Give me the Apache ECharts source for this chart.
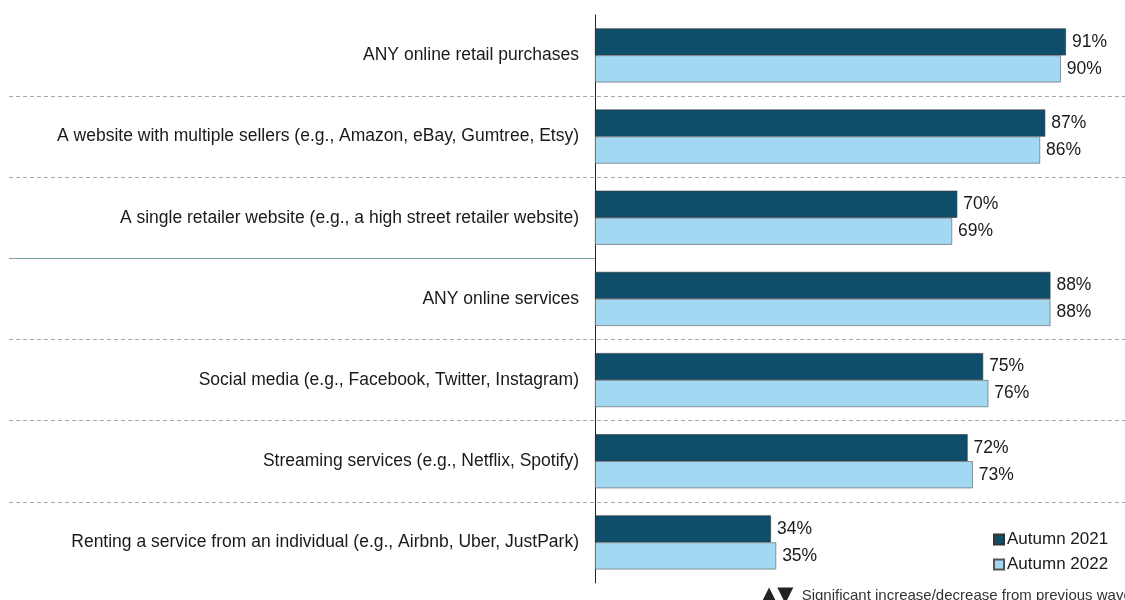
<!DOCTYPE html>
<html>
<head>
<meta charset="utf-8">
<script src="https://cdn.jsdelivr.net/npm/echarts@6/dist/echarts.min.js"></script>
<style>
  html, body { margin: 0; padding: 0; background: #fff; }
  #chart { width: 1125px; height: 600px; }
</style>
</head>
<body>
<div id="chart"></div>
<script>
const categories = [
  'ANY online retail purchases',
  'A website with multiple sellers (e.g., Amazon, eBay, Gumtree, Etsy)',
  'A single retailer website (e.g., a high street retailer website)',
  'ANY online services',
  'Social media (e.g., Facebook, Twitter, Instagram)',
  'Streaming services (e.g., Netflix, Spotify)',
  'Renting a service from an individual (e.g., Airbnb, Uber, JustPark)'
]
const autumn2021 = [91, 87, 70, 88, 75, 72, 34]
const autumn2022 = [90, 86, 69, 88, 76, 73, 35]
const seriesNames = ['Autumn 2021', 'Autumn 2022']
// group boundaries (in category units from the top)
const dashedBoundaries = [1, 2, 4, 5, 6]
const solidBoundaries = [3]
const footnoteMarks = '\u25B2\u25BC'
const footnote = 'Significant increase/decrease from previous wave'

const colors = ['#0f4e6b', '#a3d8f2']
const font = '"Liberation Sans", Arial, sans-serif'
const gridTop = 14.8, gridBottom = 17

const valueLabel = {
  show: true,
  position: 'right',
  distance: 6,
  formatter: '{c}%',
  color: '#1a1a1a',
  fontSize: 17.5,
  fontFamily: font
}

const option = {
  animation: false,
  textStyle: { fontFamily: font },
  color: colors,
  grid: [
    { left: 595, right: 12.5, top: gridTop, bottom: gridBottom },
    { left: 9, right: 0, top: gridTop, bottom: gridBottom },
    { left: 9, right: 530, top: gridTop, bottom: gridBottom }
  ],
  legend: {
    data: seriesNames.map(name => ({ name: name, icon: 'rect' })),
    orient: 'vertical',
    left: 988,
    top: 526,
    itemWidth: 10,
    itemHeight: 10,
    itemGap: 8,
    textStyle: { fontSize: 17, color: '#1a1a1a', fontFamily: font, padding: [0, 0, 0, -2] }
  },
  xAxis: [
    { type: 'value', gridIndex: 0, min: 0, max: 100, show: false },
    { type: 'value', gridIndex: 1, min: 0, max: 1, show: false },
    { type: 'value', gridIndex: 2, min: 0, max: 1, show: false }
  ],
  yAxis: [
    {
      type: 'category',
      gridIndex: 0,
      inverse: true,
      data: categories,
      axisLine: { show: true, lineStyle: { color: '#222', width: 1 } },
      axisTick: { show: false },
      splitLine: { show: false },
      axisLabel: { margin: 16, fontSize: 17.5, color: '#1a1a1a', fontFamily: font }
    },
    { type: 'value', gridIndex: 1, min: 0, max: categories.length, inverse: true, show: false },
    { type: 'value', gridIndex: 2, min: 0, max: categories.length, inverse: true, show: false }
  ],
  series: [
    {
      name: seriesNames[0],
      type: 'bar',
      xAxisIndex: 0,
      yAxisIndex: 0,
      data: autumn2021,
      barGap: '0%',
      barCategoryGap: '33.5%',
      itemStyle: { color: colors[0], borderColor: '#333', borderWidth: 0.6 },
      label: valueLabel,
      z: 3
    },
    {
      name: seriesNames[1],
      type: 'bar',
      xAxisIndex: 0,
      yAxisIndex: 0,
      data: autumn2022,
      barGap: '0%',
      barCategoryGap: '33.5%',
      itemStyle: { color: colors[1], borderColor: '#555', borderWidth: 0.6 },
      label: valueLabel,
      z: 3
    },
    {
      type: 'line',
      xAxisIndex: 1,
      yAxisIndex: 1,
      data: [],
      silent: true,
      markLine: {
        silent: true,
        symbol: 'none',
        label: { show: false },
        lineStyle: { color: '#a6a6a6', type: [4, 3], width: 1 },
        data: dashedBoundaries.map(v => ({ yAxis: v }))
      }
    },
    {
      type: 'line',
      xAxisIndex: 2,
      yAxisIndex: 2,
      data: [],
      silent: true,
      markLine: {
        silent: true,
        symbol: 'none',
        label: { show: false },
        lineStyle: { color: '#7fa2a8', type: 'solid', width: 1 },
        data: solidBoundaries.map(v => ({ yAxis: v }))
      }
    }
  ],
  graphic: [
    {
      type: 'text',
      left: 761,
      top: 585,
      style: {
        text: '{m|' + footnoteMarks + '}  ' + footnote,
        fontSize: 15,
        fill: '#333',
        fontFamily: font,
        rich: {
          m: { fontSize: 21, fill: '#222', fontFamily: '"DejaVu Sans", sans-serif' }
        }
      }
    }
  ]
}

const chart = echarts.init(document.getElementById('chart'))
chart.setOption(option)
</script>
</body>
</html>
